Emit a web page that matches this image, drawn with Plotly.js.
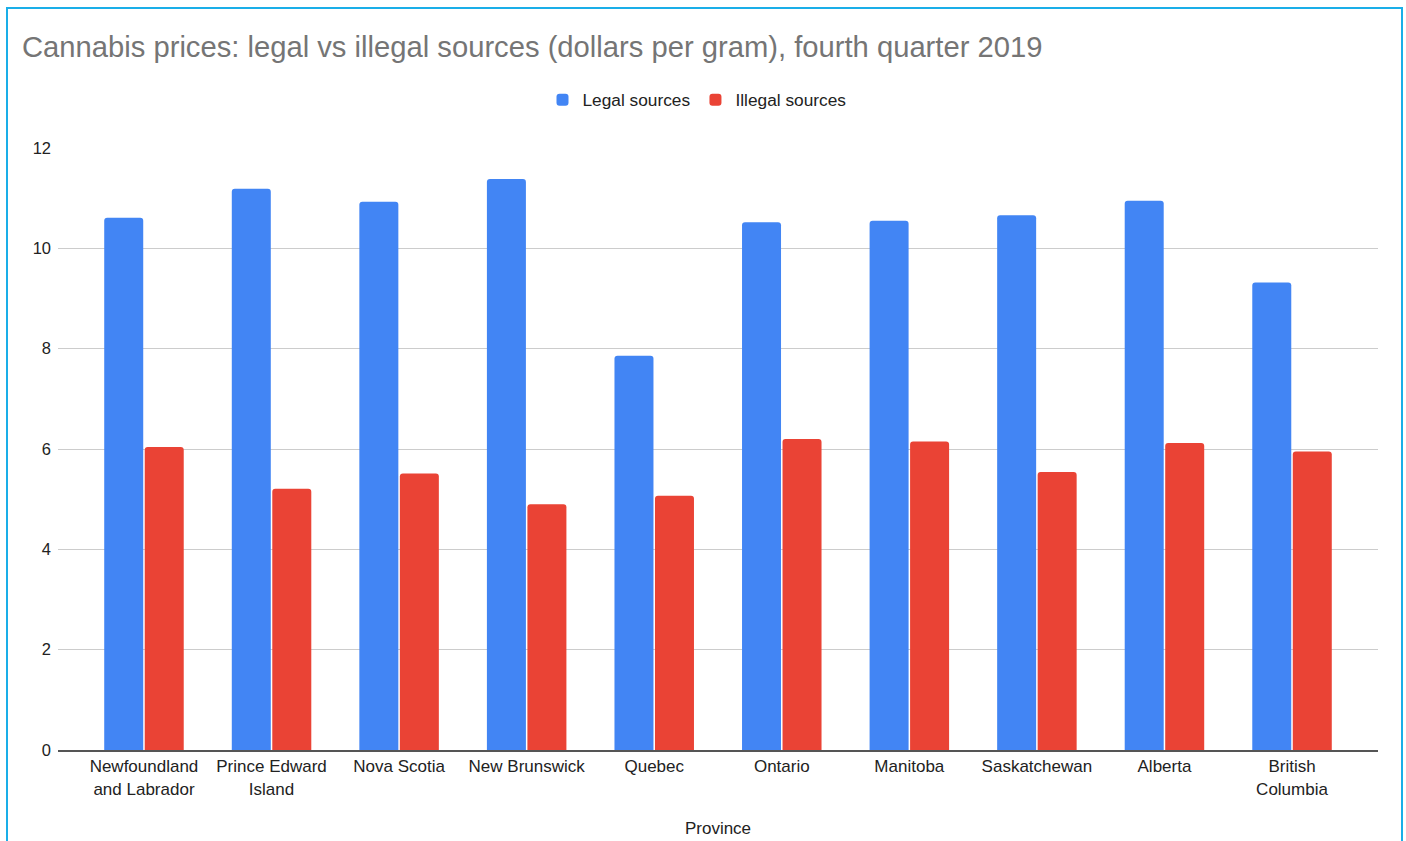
<!DOCTYPE html>
<html>
<head>
<meta charset="utf-8">
<script src="https://cdn.plot.ly/plotly-3.0.1.min.js"></script>
<style>
  html, body { margin: 0; padding: 0; background: #fff; overflow: hidden; }
  #chart { width: 1406px; height: 841px; }
  #frame { position: absolute; left: 6px; top: 7px; width: 1397px; height: 900px;
           border: 2.5px solid #1aaee8; box-sizing: border-box; pointer-events: none; }
</style>
</head>
<body>
<div id="chart"></div>
<div id="frame"></div>
<script>
const provinces = [
  "Newfoundland<br>and Labrador", "Prince Edward<br>Island", "Nova Scotia",
  "New Brunswick", "Quebec", "Ontario", "Manitoba", "Saskatchewan",
  "Alberta", "British<br>Columbia"
];
const legalPrices   = [10.61, 11.19, 10.93, 11.38, 7.86, 10.52, 10.55, 10.66, 10.95, 9.32];
const illegalPrices = [6.04, 5.21, 5.51, 4.90, 5.07, 6.20, 6.15, 5.54, 6.12, 5.95];
const seriesNames = ["Legal sources", "Illegal sources"];

const font = "Arial, 'Liberation Sans', sans-serif";

const data = [
  { type: "bar", name: seriesNames[0], x: provinces, y: legalPrices,
    marker: { color: "#4285f4" }, hoverinfo: "y" },
  { type: "bar", name: seriesNames[1], x: provinces, y: illegalPrices,
    marker: { color: "#ea4335" }, hoverinfo: "y" }
];

const layout = {
  width: 1406, height: 841,
  paper_bgcolor: "#fff", plot_bgcolor: "#fff",
  margin: { l: 58, r: 28, t: 148, b: 91 },
  font: { family: font, color: "#222", size: 17 },
  title: {
    text: "Cannabis prices: legal vs illegal sources (dollars per gram), fourth quarter 2019",
    font: { family: font, size: 29.2, color: "#757575" },
    xref: "container", yref: "container",
    x: 22 / 1406, xanchor: "left",
    y: 1 - 47 / 841, yanchor: "middle"
  },
  showlegend: true,
  legend: {
    orientation: "h",
    xref: "container", yref: "container",
    x: 697 / 1406, xanchor: "center",
    y: 1 - 100 / 841, yanchor: "middle",
    font: { family: font, size: 17.3, color: "#222" },
    itemclick: false
  },
  barmode: "group",
  bargap: 0.365,
  bargroupgap: 0.037,
  barcornerradius: 3,
  xaxis: {
    type: "category",
    range: [-0.674, 9.674],
    showgrid: false,
    showline: true, linecolor: "#555", linewidth: 2,
    ticks: "",
    tickfont: { family: font, size: 17, color: "#222" },
    title: { text: "Province", font: { family: font, size: 17, color: "#222" }, standoff: 25 },
    automargin: false,
    fixedrange: true
  },
  yaxis: {
    range: [0, 12],
    dtick: 2, tick0: 0,
    showgrid: true, gridcolor: "#cccccc", gridwidth: 1,
    zeroline: false,
    showline: false,
    ticks: "",
    ticklabelstandoff: 6,
    tickfont: { family: font, size: 16.5, color: "#222" },
    automargin: false,
    fixedrange: true
  }
};

Plotly.newPlot("chart", data, layout, { displayModeBar: false, staticPlot: true });
</script>
</body>
</html>
